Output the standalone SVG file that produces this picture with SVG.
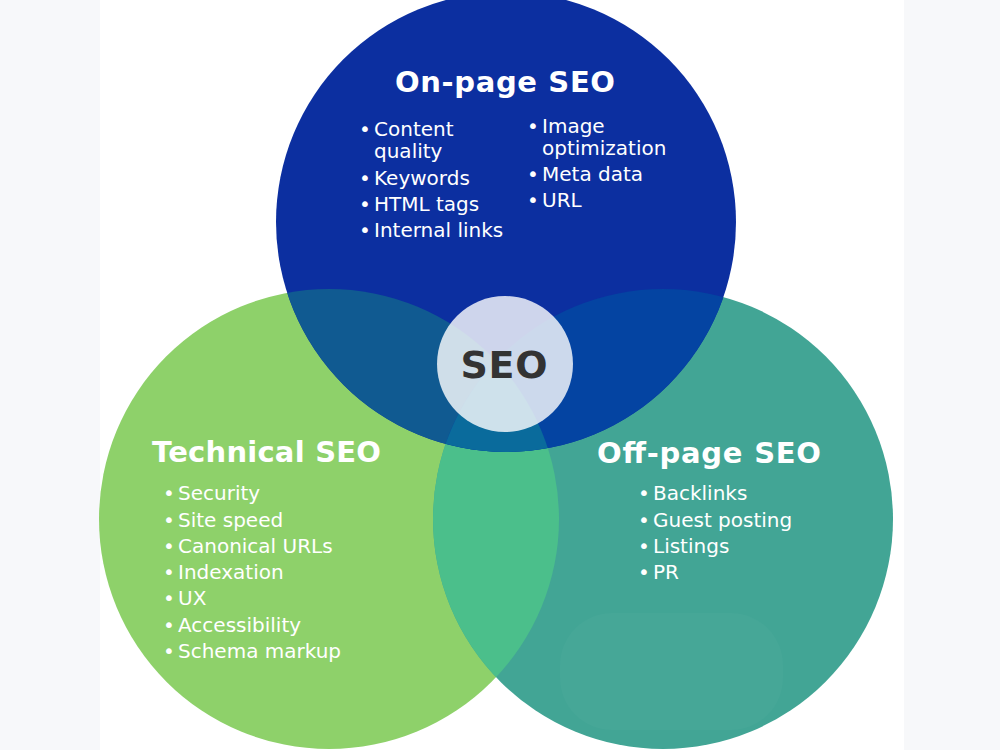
<svg xmlns="http://www.w3.org/2000/svg" width="1000" height="750" viewBox="0 0 1000 750">
  <style>
    .title { font-family: "DejaVu Sans", "Liberation Sans", sans-serif; font-weight: bold; font-size: 29px; fill: #ffffff; }
    .item { font-family: "DejaVu Sans", "Liberation Sans", sans-serif; font-size: 20px; fill: #ffffff; }
    .core { font-family: "DejaVu Sans", "Liberation Sans", sans-serif; font-weight: bold; font-size: 38px; fill: #333333; }
  </style>
  <defs>
    <clipPath id="clipBlue"><circle cx="506" cy="222" r="230"/></clipPath>
    <clipPath id="clipGreen"><circle cx="329" cy="519" r="230"/></clipPath>
    <clipPath id="clipTeal"><circle cx="663" cy="519" r="230"/></clipPath>
  </defs>
  <rect x="0" y="0" width="1000" height="750" fill="#f7f8fa"/>
  <rect x="100" y="0" width="804" height="750" fill="#ffffff"/>

  <g id="technical-seo">
    <circle cx="329" cy="519" r="230" fill="#8ed16a"/>
  </g>
  <g id="off-page-seo">
    <circle cx="663" cy="519" r="230" fill="#42a595"/>
    <rect x="560" y="613" width="223" height="117" rx="52" fill="#ffffff" fill-opacity="0.025"/>
  </g>
  <g id="on-page-seo">
    <circle cx="506" cy="222" r="230" fill="#0c2fa0"/>
  </g>
  <g id="overlaps">
    <g clip-path="url(#clipGreen)">
      <circle cx="663" cy="519" r="230" fill="#4bbf8b"/>
      <circle cx="506" cy="222" r="230" fill="#105a91"/>
    </g>
    <g clip-path="url(#clipTeal)">
      <circle cx="506" cy="222" r="230" fill="#0444a2"/>
    </g>
    <g clip-path="url(#clipTeal)">
      <g clip-path="url(#clipGreen)">
        <circle cx="506" cy="222" r="230" fill="#0a6b9c"/>
      </g>
    </g>
  </g>
  <g id="seo-core">
    <circle cx="505" cy="364" r="68" fill="#ffffff" fill-opacity="0.8"/>
    <text class="core" x="504" y="378" text-anchor="middle" textLength="87">SEO</text>
  </g>

  <g id="on-page-text">
    <text class="title" x="395" y="92" textLength="220">On-page SEO</text>
    <text class="item"><tspan x="359" y="136">•</tspan><tspan x="374">Content</tspan></text>
    <text class="item" x="374" y="158">quality</text>
    <text class="item"><tspan x="359" y="185">•</tspan><tspan x="374">Keywords</tspan></text>
    <text class="item"><tspan x="359" y="211">•</tspan><tspan x="374">HTML tags</tspan></text>
    <text class="item"><tspan x="359" y="237">•</tspan><tspan x="374">Internal links</tspan></text>
    <text class="item"><tspan x="527" y="133">•</tspan><tspan x="542">Image</tspan></text>
    <text class="item" x="542" y="155">optimization</text>
    <text class="item"><tspan x="527" y="181">•</tspan><tspan x="542">Meta data</tspan></text>
    <text class="item"><tspan x="527" y="207">•</tspan><tspan x="542">URL</tspan></text>
  </g>

  <g id="technical-text">
    <text class="title" x="152" y="462" textLength="229">Technical SEO</text>
    <text class="item"><tspan x="163" y="500">•</tspan><tspan x="178">Security</tspan></text>
    <text class="item"><tspan x="163" y="527">•</tspan><tspan x="178">Site speed</tspan></text>
    <text class="item"><tspan x="163" y="553">•</tspan><tspan x="178">Canonical URLs</tspan></text>
    <text class="item"><tspan x="163" y="579">•</tspan><tspan x="178">Indexation</tspan></text>
    <text class="item"><tspan x="163" y="605">•</tspan><tspan x="178">UX</tspan></text>
    <text class="item"><tspan x="163" y="632">•</tspan><tspan x="178">Accessibility</tspan></text>
    <text class="item"><tspan x="163" y="658">•</tspan><tspan x="178">Schema markup</tspan></text>
  </g>

  <g id="off-page-text">
    <text class="title" x="597" y="463" textLength="224">Off-page SEO</text>
    <text class="item"><tspan x="638" y="500">•</tspan><tspan x="653">Backlinks</tspan></text>
    <text class="item"><tspan x="638" y="527">•</tspan><tspan x="653">Guest posting</tspan></text>
    <text class="item"><tspan x="638" y="553">•</tspan><tspan x="653">Listings</tspan></text>
    <text class="item"><tspan x="638" y="579">•</tspan><tspan x="653">PR</tspan></text>
  </g>
</svg>
